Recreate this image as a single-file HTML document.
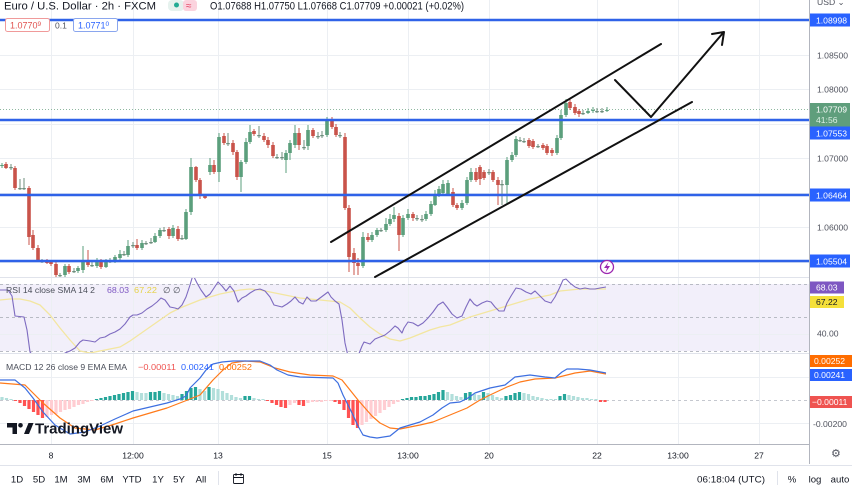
<!DOCTYPE html>
<html><head><meta charset="utf-8"><style>
html,body{margin:0;padding:0;background:#fff;}
svg{display:block;}
text{font-family:"Liberation Sans",Arial,sans-serif;}
</style></head><body>
<svg width="852" height="485" viewBox="0 0 852 485" xmlns="http://www.w3.org/2000/svg">
<defs>
<clipPath id="cm"><rect x="0" y="0" width="809" height="277"/></clipPath>
<clipPath id="cr"><rect x="0" y="278" width="809" height="75"/></clipPath>
<clipPath id="cd"><rect x="0" y="354" width="809" height="90"/></clipPath>
</defs>
<rect width="852" height="485" fill="#fff"/>
<!-- RSI band -->
<rect x="0" y="284" width="809" height="67" fill="#f2effa"/>
<!-- grid -->
<g stroke="#eceff3" stroke-width="1">
<path d="M51.5 0V444M133.5 0V444M218.5 0V444M327.5 0V444M408.5 0V444M489.5 0V444M597.5 0V444M678.5 0V444M759.5 0V444"/>
<path d="M0 55.5H809M0 89.5H809M0 124.5H809M0 158.5H809M0 193.5H809M0 227.5H809M0 262.5H809"/>
<path d="M0 334.5H809M0 377.5H809M0 423.5H809"/>
</g>
<g stroke="#b8bbc4" stroke-width="1" stroke-dasharray="3,3">
<path d="M0 284.5H809M0 317.5H809M0 351.5H809"/>
<path d="M0 400.5H809" stroke="#c5c8cf"/>
</g>
<!-- separators -->
<g stroke="#e0e3eb" stroke-width="1">
<path d="M0 277.5H809M0 353.5H809"/>
<path d="M0 465.5H852"/>
</g>
<path d="M0 444.5H809" stroke="#b2b5be" stroke-width="1"/>
<path d="M809.5 0V464" stroke="#b2b5be" stroke-width="1"/>
<!-- price dotted line -->
<path d="M0 109.5H809" stroke="#8fb8a0" stroke-width="1" stroke-dasharray="1,2"/>

<!-- candles -->
<g clip-path="url(#cm)" fill="none">
<g stroke="#5b9f7c">
<path stroke-width="1" d="M2 163V168 M65 264V277 M78 266V273 M83 246V273 M97 258V268 M106 259V268 M115 255V263 M120 250V260 M128 240V257 M142 240V250 M155 233V243 M160 228V238 M173 225V238 M186 209V240 M191 158V215 M210 158V175 M219 133V182 M241 160V192 M246 138V164 M250 125V144 M286 150V173 M290 140V160 M295 125V148 M308 125V150 M327 117V137 M363 232V268 M372 232V242 M377 228V237 M386 218V232 M390 214V226 M394 207V222 M403 215V237 M408 209V220 M426 211V221 M431 201V216 M435 190V206 M439 186V197 M443 180V195 M448 180V196 M462 200V210 M467 177V205 M471 168V182 M507 157V205 M512 152V162 M516 136V157 M557 135V155 M561 110V140 M566 99V117 M588 108V114 M593 107V113 M607 107V112"/>
<path stroke-width="3.6" d="M2 166V165 M65 275V266 M78 271V268 M83 270V260 M97 266V261 M106 267V261 M115 261V257 M120 258V254 M128 255V246 M142 248V243 M155 242V236 M160 236V230 M173 236V228 M186 239V212 M191 212V167 M210 172V165 M219 172V137 M241 177V162 M246 162V142 M250 142V132 M286 160V153 M290 153V143 M295 145V133 M308 146V130 M327 135V120 M363 266V237 M372 240V235 M377 235V230 M386 230V224 M390 224V219 M394 219V215 M403 235V218 M408 218V214 M426 219V214 M431 214V204 M435 205V195 M439 195V189 M443 193V184 M448 194V183 M462 208V203 M467 203V180 M471 180V172 M507 185V160 M512 160V155 M516 155V139 M557 153V138 M561 138V115 M566 115V103 M588 113V111 M593 111V110 M607 111V110"/>
</g>
<g stroke="#c9534a">
<path stroke-width="1" d="M6 162V169 M15 166V190 M29 186V245 M33 230V250 M38 245V262 M47 259V264 M51 260V266 M56 262V277 M69 264V274 M88 250V267 M101 259V269 M137 239V250 M169 227V239 M178 226V241 M196 166V182 M200 178V199 M205 195V199 M214 160V174 M224 133V145 M233 140V155 M237 150V180 M254 129V136 M264 133V142 M268 137V148 M273 142V158 M299 128V150 M313 128V138 M332 117V129 M336 124V137 M345 133V210 M349 205V272 M354 248V275 M358 258V275 M368 233V242 M399 213V251 M413 212V221 M453 188V207 M457 203V210 M476 168V182 M480 165V185 M484 170V180 M493 170V182 M498 177V205 M529 138V148 M533 139V149 M543 143V150 M547 144V155 M552 148V156 M570 99V110 M575 104V115 M579 109V117"/>
<path stroke-width="3.6" d="M6 164V168 M15 168V188 M29 188V237 M33 235V248 M38 248V260 M47 261V263 M51 262V264 M56 264V275 M69 266V272 M88 260V265 M101 262V267 M137 245V248 M169 229V236 M178 229V239 M196 167V180 M200 180V196 M205 196V198 M214 165V172 M224 136V143 M233 143V152 M237 152V177 M254 131V134 M264 136V140 M268 140V145 M273 145V156 M299 133V145 M313 130V136 M332 120V127 M336 127V135 M345 137V208 M349 208V257 M354 253V263 M358 263V266 M368 237V240 M399 216V235 M413 214V218 M453 192V205 M457 205V208 M476 172V180 M480 167V179 M484 172V178 M493 172V180 M498 180V185 M529 140V146 M533 141V147 M543 145V148 M547 146V153 M552 150V153 M570 102V108 M575 107V113 M579 111V114"/>
</g>
<g stroke="#6f8f7e">
<path stroke-width="1" d="M11 164V170 M20 179V190 M24 178V190 M42 259V263 M60 273V277 M74 268V273 M92 262V267 M110 258V263 M124 251V256 M133 242V248 M146 241V245 M151 238V244 M164 227V232 M182 235V240 M228 133V146 M259 126V138 M277 154V159 M282 152V160 M304 140V150 M318 132V139 M322 131V138 M340 132V138 M381 228V232 M417 215V221 M422 215V222 M489 169V175 M502 180V205 M520 137V142 M524 138V143 M538 144V148 M583 110V115 M597 108V113 M602 108V113"/>
<path stroke-width="3.6" d="M11 167V168.2 M20 188V189.2 M24 188V189.2 M42 261V262.2 M60 275V276.2 M74 271V272.2 M92 265V266.2 M110 261V262.2 M124 254V255.2 M133 245V246.2 M146 243V244.2 M151 242V243.2 M164 230V231.2 M182 238V239.2 M228 143V144.2 M259 135V136.2 M277 157V158.2 M282 157V158.2 M304 147V148.2 M318 136V137.2 M322 135V136.2 M340 135V136.2 M381 230V231.2 M417 218V219.2 M422 219V220.2 M489 172V173.2 M502 184V185.2 M520 140V141.2 M524 141V142.2 M538 146V147.2 M583 113V114.2 M597 111V112.2 M602 111V112.2"/>
</g>
</g>

<!-- horizontal levels -->
<g stroke="#2f62e8" stroke-width="2.4">
<path d="M0 20H809M0 120H809M0 195H809M0 261H809"/>
</g>
<!-- channel & arrow -->
<g stroke="#111" stroke-width="2" fill="none" stroke-linecap="round" stroke-linejoin="round">
<path d="M331 242L661 44"/>
<path d="M375 277L692 102"/>
<path d="M615 80L651 117L723 33"/>
<path d="M712 34L724 32L722 45"/>
</g>
<!-- lightning icon -->
<circle cx="607" cy="267" r="6.5" fill="#fff" stroke="#9c27b0" stroke-width="1.3"/>
<path d="M608.5 262L604 268H607L605.5 272.5L610 266H607Z" fill="#9c27b0"/>

<!-- RSI -->
<g clip-path="url(#cr)" fill="none" stroke-linejoin="round">
<polyline stroke="#f3e6a0" stroke-width="1.3" points="0,300 10,299 20,299 30,301 40,305 50,315 60,328 70,340 80,351 90,353 100,351 110,349 120,347 130,341 140,334 150,327 160,320 170,313 180,308 190,304 200,300 210,297 220,294 230,292 240,290 250,289 260,290 270,292 280,294 290,296 300,298 310,299 320,300 330,301 340,302 350,308 360,318 370,327 380,334 390,339 400,341 410,338 420,334 430,330 440,327 450,325 460,321 470,317 480,314 490,311 500,308 510,305 520,302 530,299 540,297 550,295 560,291 570,290 580,289 606,289"/>
<polyline stroke="#7e6bc0" stroke-width="1.1" points="0,290 8,290 12,296 15,316 24,317 27,330 30,352 35,358 60,358 65,353 70,351 75,348 80,342 83,340 90,341 95,342 100,338 105,337 110,334 115,332 120,329 125,324 130,317 133,315 137,315 142,313 147,309 152,306 157,302 161,298 165,300 170,307 175,308 178,309 182,305 186,297 190,285 193,275 197,283 201,290 206,297 210,294 214,288 218,282 222,286 226,291 230,286 234,291 238,302 242,298 246,296 250,293 255,290 260,289 265,291 270,297 274,305 278,306 282,307 287,304 291,301 295,297 299,302 303,304 307,297 311,301 316,301 320,298 324,295 328,292 331,297 335,301 339,304 342,320 345,343 348,356 355,358 358,356 362,346 364,342 370,344 375,339 380,337 385,335 390,331 395,326 398,328 402,333 404,328 408,322 413,323 418,326 423,323 428,318 433,312 438,305 443,302 447,307 452,314 457,318 462,316 466,307 470,299 474,304 477,306 482,303 487,301 491,302 495,307 499,311 504,311 507,303 511,296 516,288 521,289 526,292 531,294 535,291 540,296 545,301 551,303 555,297 559,289 563,280 566,279 570,283 575,287 580,289 585,288 590,289 595,289 600,288 606,287"/>
</g>

<!-- MACD -->
<g clip-path="url(#cd)" fill="none">
<path stroke="#26a69a" stroke-width="3.2" d="M96.5 400V399M101 400V398M105.5 400V397M110 400V396M114.5 400V395M119 400V394M123.5 400V393M128 400V392M132.5 400V391M150.5 400V392M155 400V392M159.5 400V391M182 400V394M186.5 400V391M191 400V388M195.5 400V387M209 400V387M245 400V396M249.5 400V396M402.5 400V399M407 400V398M411.5 400V397M416 400V397M420.5 400V396M425 400V396M429.5 400V395M434 400V394M438.5 400V392M443 400V390M465.5 400V393M470 400V392M483.5 400V392M506 400V396M510.5 400V395M515 400V393M519.5 400V392M560 400V396M564.5 400V394"/>
<path stroke="#b2dfdb" stroke-width="3.2" d="M2 400V397M6.5 400V398M11 400V399M137 400V392M141.5 400V393M146 400V393M164 400V393M168.5 400V394M173 400V395M177.5 400V396M200 400V389M204.5 400V391M213.5 400V388M218 400V389M222.5 400V391M227 400V393M231.5 400V395M236 400V397M240.5 400V398M254 400V398M258.5 400V399M263 400V399M447.5 400V392M452 400V394M456.5 400V396M461 400V397M474.5 400V394M479 400V395M488 400V393M492.5 400V395M497 400V397M501.5 400V398M524 400V393M528.5 400V394M533 400V396M537.5 400V397M542 400V398M546.5 400V399M551 400V399M555.5 400V399M569 400V395M573.5 400V396M578 400V397M582.5 400V398M587 400V398M591.5 400V399M596 400V399"/>
<path stroke="#ff5252" stroke-width="3.2" d="M15.5 400V401M20 400V403M24.5 400V406M29 400V409M33.5 400V412M38 400V415M42.5 400V418M267.5 400V401M272 400V403M276.5 400V405M281 400V407M285.5 400V408M299 400V405M303.5 400V406M335 400V402M339.5 400V404M344 400V410M348.5 400V418M353 400V425M357.5 400V428M600.5 400V402M605 400V402"/>
<path stroke="#ffcdd2" stroke-width="3.2" d="M47 400V417M51.5 400V415M56 400V414M60.5 400V412M65 400V410M69.5 400V409M74 400V407M78.5 400V405M83 400V404M87.5 400V402M92 400V401M290 400V405M294.5 400V403M308 400V403M312.5 400V402M317 400V402M321.5 400V402M326 400V401M330.5 400V401M362 400V425M366.5 400V422M371 400V419M375.5 400V416M380 400V413M384.5 400V410M389 400V407M393.5 400V404M398 400V402"/>
<polyline stroke="#ff7a1a" stroke-width="1.2" stroke-linejoin="round" points="0,383 25,385 43,403 60,418 75,428 95,430 115,424 133,418 150,413 167,408 185,401 200,395 213,380 223,370 232,363 245,361 260,362 275,368 290,372 310,375 333,376 342,380 350,390 358,400 365,408 372,416 380,423 390,428 400,429 420,425 433,422 450,415 467,408 480,400 490,395 507,387 520,382 535,379 555,378 575,373 590,371 606,374"/>
<polyline stroke="#3d6fe0" stroke-width="1.2" stroke-linejoin="round" points="0,380 15,380 25,388 33,398 43,412 55,425 70,434 85,432 100,426 115,419 133,411 150,407 167,403 180,399 186,396 190,388 195,383 200,378 206,370 213,364 222,362 233,361 260,361 270,365 277,370 288,375 300,377 333,378 338,383 343,395 348,405 353,415 358,426 363,435 370,437 377,438 390,436 400,428 410,425 420,422 433,415 442,408 450,403 460,402 468,398 475,393 490,388 505,385 515,377 530,375 545,377 555,378 562,372 567,369 578,369 590,370 606,373"/>
</g>

<!-- TradingView watermark -->
<g fill="#131722">
<path d="M7 423H17V434H12.5V427.5H7Z"/>
<circle cx="20.5" cy="425.3" r="2.3"/>
<path d="M24 434L28.5 423H33.5L29 434Z"/>
<text x="35" y="433.5" font-size="15" font-weight="bold" textLength="88" lengthAdjust="spacingAndGlyphs">TradingView</text>
</g>

<!-- header -->
<text x="4" y="9.5" font-size="11.3" fill="#131722" textLength="152" lengthAdjust="spacingAndGlyphs">Euro / U.S. Dollar · 2h · FXCM</text>
<rect x="168" y="0" width="16" height="11" rx="4" fill="#e6f2ee"/>
<circle cx="176.5" cy="5" r="2.5" fill="#22ab94"/>
<rect x="183" y="0" width="14" height="11" rx="3" fill="#fbd3de"/>
<text x="186" y="9" font-size="10" fill="#e0405f">≈</text>
<text x="210" y="9.5" font-size="11" fill="#131722" textLength="254" lengthAdjust="spacingAndGlyphs">O1.07688 H1.07750 L1.07668 C1.07709 +0.00021 (+0.02%)</text>

<rect x="5.5" y="18.5" width="44" height="13" rx="2" fill="#fff" stroke="#f09a9a"/>
<text x="10" y="28.5" font-size="9" fill="#e0524f">1.0770<tspan font-size="6.5" dy="-2.5">9</tspan></text>
<text x="55" y="28.5" font-size="8.5" fill="#50535e">0.1</text>
<rect x="73.5" y="18.5" width="44" height="13" rx="2" fill="#fff" stroke="#8aa6ee"/>
<text x="78" y="28.5" font-size="9" fill="#2962ff">1.0771<tspan font-size="6.5" dy="-2.5">0</tspan></text>

<!-- right axis -->
<g font-size="8.6" fill="#50535e">
<text x="817" y="5">USD ⌄</text>
<text x="817" y="58.5">1.08500</text>
<text x="817" y="92.5">1.08000</text>
<text x="817" y="161.5">1.07000</text>
<text x="817" y="230.5">1.06000</text>
<text x="817" y="336.5">40.00</text>
<text x="813" y="427">-0.00200</text>
</g>
<g font-size="8.6" fill="#fff">
<rect x="810" y="13.5" width="40" height="13" fill="#2962ff"/><text x="816" y="23.5">1.08998</text>
<rect x="810" y="103" width="40" height="24" fill="#5f9e7c"/><text x="816" y="112.5">1.07709</text><text x="816" y="123" fill="#dcefe4">41:56</text>
<rect x="810" y="126.5" width="40" height="13" fill="#2962ff"/><text x="816" y="136.5">1.07553</text>
<rect x="810" y="188.5" width="40" height="13" fill="#2962ff"/><text x="816" y="198.5">1.06464</text>
<rect x="810" y="254.5" width="40" height="13" fill="#2962ff"/><text x="816" y="264.5">1.05504</text>
<rect x="810" y="281.5" width="34" height="12" fill="#7e57c2"/><text x="816" y="290.5">68.03</text>
<rect x="810" y="296" width="34" height="12" fill="#f5e03a"/><text x="816" y="305" fill="#131722">67.22</text>
<rect x="810" y="355" width="42" height="12" fill="#ff6d00"/><text x="814" y="364">0.00252</text>
<rect x="810" y="369" width="42" height="12" fill="#2962ff"/><text x="814" y="378">0.00241</text>
<rect x="810" y="396" width="42" height="12" fill="#ef5350"/><text x="812" y="405">−0.00011</text>
</g>
<text x="831" y="457" font-size="11" fill="#50535e">⚙</text>

<!-- pane legends -->
<g font-size="8.6">
<text x="6" y="293" fill="#4a4e59" textLength="89" lengthAdjust="spacingAndGlyphs">RSI 14 close SMA 14 2</text>
<text x="107" y="293" fill="#7e57c2" textLength="22" lengthAdjust="spacingAndGlyphs">68.03</text>
<text x="134" y="293" fill="#e6d24a" textLength="23" lengthAdjust="spacingAndGlyphs">67.22</text>
<text x="163" y="293" fill="#4a4e59">∅</text>
<text x="173" y="293" fill="#4a4e59">∅</text>
<text x="6" y="370" fill="#4a4e59" textLength="121" lengthAdjust="spacingAndGlyphs">MACD 12 26 close 9 EMA EMA</text>
<text x="138" y="370" fill="#ef5350" textLength="38" lengthAdjust="spacingAndGlyphs">−0.00011</text>
<text x="181" y="370" fill="#2962ff" textLength="33" lengthAdjust="spacingAndGlyphs">0.00241</text>
<text x="219" y="370" fill="#ff6d00" textLength="33" lengthAdjust="spacingAndGlyphs">0.00252</text>
</g>

<!-- time axis -->
<g font-size="8.6" fill="#131722" text-anchor="middle">
<text x="51" y="458.5">8</text>
<text x="133" y="458.5">12:00</text>
<text x="218" y="458.5">13</text>
<text x="327" y="458.5">15</text>
<text x="408" y="458.5">13:00</text>
<text x="489" y="458.5">20</text>
<text x="597" y="458.5">22</text>
<text x="678" y="458.5">13:00</text>
<text x="759" y="458.5">27</text>
</g>

<!-- bottom toolbar -->
<g font-size="9.6" fill="#131722" text-anchor="middle">
<text x="17" y="482.5">1D</text>
<text x="39" y="482.5">5D</text>
<text x="61" y="482.5">1M</text>
<text x="84" y="482.5">3M</text>
<text x="107" y="482.5">6M</text>
<text x="132" y="482.5">YTD</text>
<text x="158" y="482.5">1Y</text>
<text x="179" y="482.5">5Y</text>
<text x="201" y="482.5">All</text>
<text x="731" y="482.5" textLength="68" lengthAdjust="spacingAndGlyphs">06:18:04 (UTC)</text>
<text x="792" y="482.5">%</text>
<text x="815" y="482.5">log</text>
<text x="840" y="482.5">auto</text>
</g>
<path d="M218.5 471V485M777.5 471V485" stroke="#e0e3eb"/>
<g fill="none" stroke="#131722" stroke-width="0.9">
<rect x="233.5" y="474.5" width="10" height="9" rx="1"/>
<path d="M233.5 477.5H243.5M236 473V476M241 473V476"/>
</g>
</svg>
</body></html>
